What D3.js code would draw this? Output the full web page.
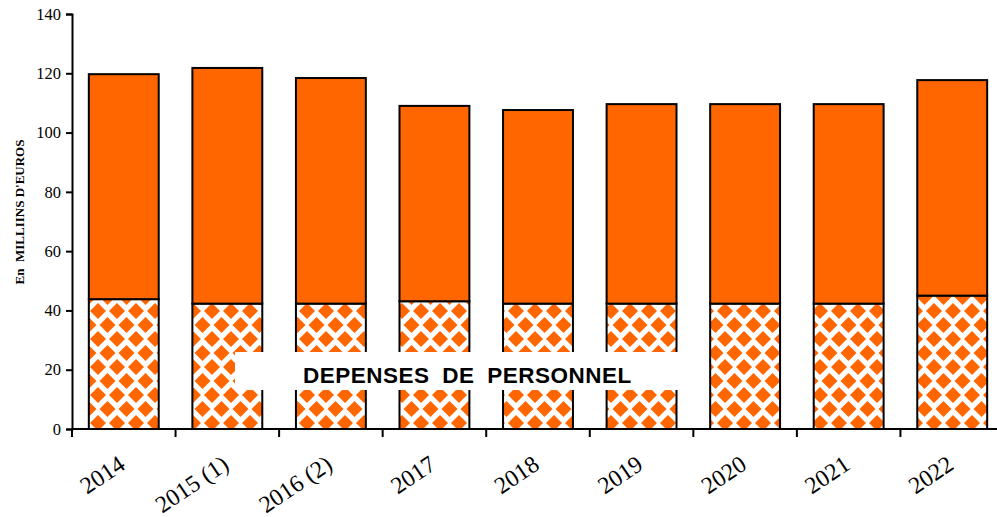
<!DOCTYPE html>
<html>
<head>
<meta charset="utf-8">
<script src="https://cdn.jsdelivr.net/npm/d3@7"></script>
<style>
  body { margin: 0; background: #fff; }
  svg { display: block; }
</style>
</head>
<body>
<div id="chart"></div>
<script>
// values (millions d'euros)
const years = ["2014", "2015 (1)", "2016 (2)", "2017", "2018", "2019", "2020", "2021", "2022"];
const personnel = [43.8, 42.3, 42.3, 43.1, 42.3, 42.3, 42.3, 42.3, 45.0];
const autres = [75.9, 79.5, 76.1, 65.9, 65.3, 67.3, 67.3, 67.3, 72.7];
const yTicks = [0, 20, 40, 60, 80, 100, 120, 140];

const W = 997, H = 517;
const margin = {top: 14, left: 72, bottom: 88};
const plotBottom = H - margin.bottom;
const serif = "'Liberation Serif', 'Times New Roman', serif";

const svg = d3.select("#chart").append("svg")
    .attr("width", W)
    .attr("height", H);

const defs = svg.append("defs");
const pat = defs.append("pattern")
    .attr("id", "losange")
    .attr("width", 19)
    .attr("height", 28)
    .attr("patternUnits", "userSpaceOnUse")
    .attr("x", 3)
    .attr("y", 3);
pat.append("rect").attr("width", 19).attr("height", 28).attr("fill", "#fff");
[[0, 0], [19, 0], [9.5, 14], [0, 28], [19, 28]].forEach(([cx, cy]) => {
    pat.append("path")
        .attr("d", `M${cx},${cy - 8}L${cx + 8},${cy}L${cx},${cy + 8}L${cx - 8},${cy}Z`)
        .attr("fill", "#ff6600");
});

const x = d3.scaleBand().domain(years).range([margin.left, 1004]).padding(0);
const y = d3.scaleLinear().domain([0, 140]).range([plotBottom, margin.top]);
const barW = x.bandwidth() * 0.675;

const data = years.map((yr, i) => ({year: yr, personnel: personnel[i], autres: autres[i]}));
const series = d3.stack().keys(["personnel", "autres"])(data);
const fills = {personnel: "url(#losange)", autres: "#ff6600"};

svg.append("g")
    .selectAll("g")
    .data(series)
    .enter().append("g")
        .attr("fill", d => fills[d.key])
    .selectAll("rect")
    .data(d => d)
    .enter().append("rect")
        .attr("x", d => x(d.data.year) + (x.bandwidth() - barW) / 2)
        .attr("y", d => y(d[1]))
        .attr("width", barW)
        .attr("height", d => y(d[0]) - y(d[1]))
        .attr("stroke", "#000")
        .attr("stroke-width", 2);

// y axis
const yAxis = svg.append("g")
    .attr("transform", "translate(" + margin.left + ",0)")
    .call(d3.axisLeft(y).tickValues(yTicks).tickSize(6).tickPadding(5));
yAxis.attr("font-family", null).attr("font-size", null);
yAxis.selectAll("text")
    .style("font-family", serif)
    .style("font-size", "16.5px")
    .attr("fill", "#000");
yAxis.selectAll("line, path").attr("stroke", "#000").attr("stroke-width", 2);

// x axis: line plus ticks on band boundaries
const xg = svg.append("g");
xg.append("line")
    .attr("x1", margin.left).attr("x2", W)
    .attr("y1", plotBottom).attr("y2", plotBottom)
    .attr("stroke", "#000").attr("stroke-width", 2);
xg.selectAll(".tk")
    .data(years)
    .enter().append("line")
        .attr("x1", d => x(d)).attr("x2", d => x(d))
        .attr("y1", plotBottom).attr("y2", plotBottom + 8)
        .attr("stroke", "#000").attr("stroke-width", 2);
xg.selectAll(".lbl")
    .data(years)
    .enter().append("text")
        .attr("transform", d => "translate(" + (x(d) + x.bandwidth() / 2 + 3) + "," + (plotBottom + 39) + ") rotate(-34)")
        .attr("text-anchor", "end")
        .style("font-family", serif)
        .style("font-size", "24px")
        .text(d => d);

// y axis title
svg.append("text")
    .attr("transform", "translate(24,212) rotate(-90)")
    .attr("text-anchor", "middle")
    .style("font-family", serif)
    .style("font-weight", "bold")
    .style("font-size", "13px")
    .style("white-space", "pre")
    .text("En  MILLIINS D'EUROS");

// label box
svg.append("rect")
    .attr("x", 235).attr("y", 352)
    .attr("width", 452).attr("height", 38)
    .attr("fill", "#fff");
svg.append("text")
    .attr("x", 303).attr("y", 383)
    .style("font-family", "'Liberation Sans', Arial, sans-serif")
    .style("font-weight", "bold")
    .style("font-size", "22.5px")
    .style("word-spacing", "6px")
    .style("letter-spacing", "0.5px")
    .text("DEPENSES DE PERSONNEL");
</script>
</body>
</html>
